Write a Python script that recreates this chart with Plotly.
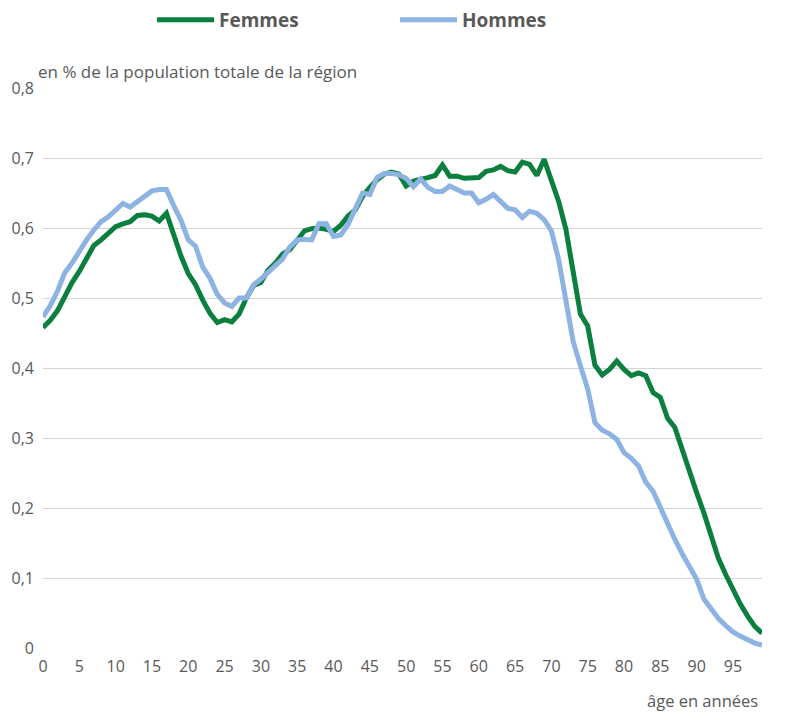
import plotly.graph_objects as go

ages = list(range(0, 100))

femmes = [
    0.458, 0.468, 0.482, 0.503, 0.522, 0.538, 0.557, 0.575, 0.583, 0.593,
    0.602, 0.606, 0.609, 0.618, 0.619, 0.617, 0.610, 0.621, 0.590, 0.560,
    0.535, 0.519, 0.497, 0.478, 0.465, 0.469, 0.466, 0.477, 0.500, 0.518,
    0.522, 0.540, 0.550, 0.563, 0.569, 0.583, 0.596, 0.599, 0.600, 0.598,
    0.595, 0.604, 0.617, 0.626, 0.645, 0.658, 0.669, 0.677, 0.680, 0.677,
    0.660, 0.667, 0.669, 0.672, 0.675, 0.690, 0.674, 0.674, 0.671, 0.671,
    0.672, 0.681, 0.683, 0.688, 0.682, 0.680, 0.694, 0.691, 0.675, 0.698,
    0.667, 0.638, 0.598, 0.534, 0.477, 0.460, 0.404, 0.390, 0.398, 0.410,
    0.398, 0.389, 0.393, 0.389, 0.365, 0.358, 0.328, 0.315, 0.283, 0.252,
    0.222, 0.193, 0.160, 0.128, 0.105, 0.083, 0.063, 0.046, 0.031, 0.021,
]

hommes = [
    0.473, 0.489, 0.510, 0.536, 0.550, 0.567, 0.583, 0.597, 0.609, 0.616,
    0.625, 0.635, 0.630, 0.637, 0.644, 0.653, 0.655, 0.655, 0.632, 0.611,
    0.583, 0.574, 0.544, 0.528, 0.505, 0.493, 0.488, 0.500, 0.500, 0.519,
    0.527, 0.537, 0.545, 0.556, 0.573, 0.583, 0.584, 0.583, 0.606, 0.606,
    0.588, 0.590, 0.605, 0.627, 0.650, 0.648, 0.672, 0.678, 0.678, 0.676,
    0.671, 0.659, 0.670, 0.658, 0.652, 0.652, 0.660, 0.655, 0.650, 0.650,
    0.636, 0.641, 0.648, 0.638, 0.628, 0.626, 0.615, 0.624, 0.621, 0.612,
    0.596, 0.555, 0.500, 0.438, 0.403, 0.370, 0.322, 0.311, 0.306, 0.298,
    0.279, 0.271, 0.260, 0.237, 0.224, 0.200, 0.175, 0.155, 0.135, 0.115,
    0.098, 0.070, 0.055, 0.042, 0.032, 0.023, 0.017, 0.011, 0.007, 0.004,
]

x_tickvals = list(range(0, 100, 5))
x_ticktext = [str(v) for v in x_tickvals]
y_tickvals = [0, 0.1, 0.2, 0.3, 0.4, 0.5, 0.6, 0.7, 0.8]
y_ticktext = ["0", "0,1", "0,2", "0,3", "0,4", "0,5", "0,6", "0,7", "0,8"]

GREEN = "#0b7f3e"
BLUE = "#8db3e2"
GREY = "#595959"

W, H = 779, 707

fig = go.Figure()
fig.add_trace(go.Scatter(x=ages, y=femmes, mode="lines", name="Femmes",
                         line=dict(color=GREEN, width=5)))
fig.add_trace(go.Scatter(x=ages, y=hommes, mode="lines", name="Hommes",
                         line=dict(color=BLUE, width=5)))

fig.update_layout(
    width=W, height=H,
    margin=dict(l=35, r=25, t=80, b=67),
    plot_bgcolor="white", paper_bgcolor="white",
    font=dict(family="Open Sans", color=GREY, size=16),
    showlegend=True,
    legend=dict(
        orientation="h",
        xref="container", yref="container",
        x=144 / W, xanchor="left", y=1 - 12 / H, yanchor="middle",
        font=dict(family="Open Sans", size=19, color=GREY, weight="bold"),
        itemwidth=57,
        entrywidth=171, entrywidthmode="pixels",
        bgcolor="rgba(0,0,0,0)",
    ),
    xaxis=dict(
        range=[0, 99], tickvals=x_tickvals, ticktext=x_ticktext,
        showgrid=False, zeroline=False, showline=False, ticks="",
        ticklabelstandoff=7, automargin=False,
        tickfont=dict(size=16, color=GREY),
    ),
    yaxis=dict(
        range=[0, 0.8], tickvals=y_tickvals, ticktext=y_ticktext,
        showgrid=True, gridcolor="#d4d4d4", gridwidth=1,
        zeroline=False, showline=False, ticks="",
        ticklabelstandoff=8, automargin=False,
        tickfont=dict(size=16, color=GREY),
    ),
    annotations=[
        dict(text="en % de la population totale de la région",
             xref="paper", yref="paper", x=0, y=1, xanchor="left", yanchor="bottom",
             xshift=-7, yshift=3, showarrow=False,
             font=dict(size=17, color=GREY)),
        dict(text="âge en années",
             xref="paper", yref="paper", x=1, y=0, xanchor="right", yanchor="middle",
             xshift=-2, yshift=-52, showarrow=False,
             font=dict(size=16.5, color=GREY)),
    ],
)

fig.write_html("out.html")
